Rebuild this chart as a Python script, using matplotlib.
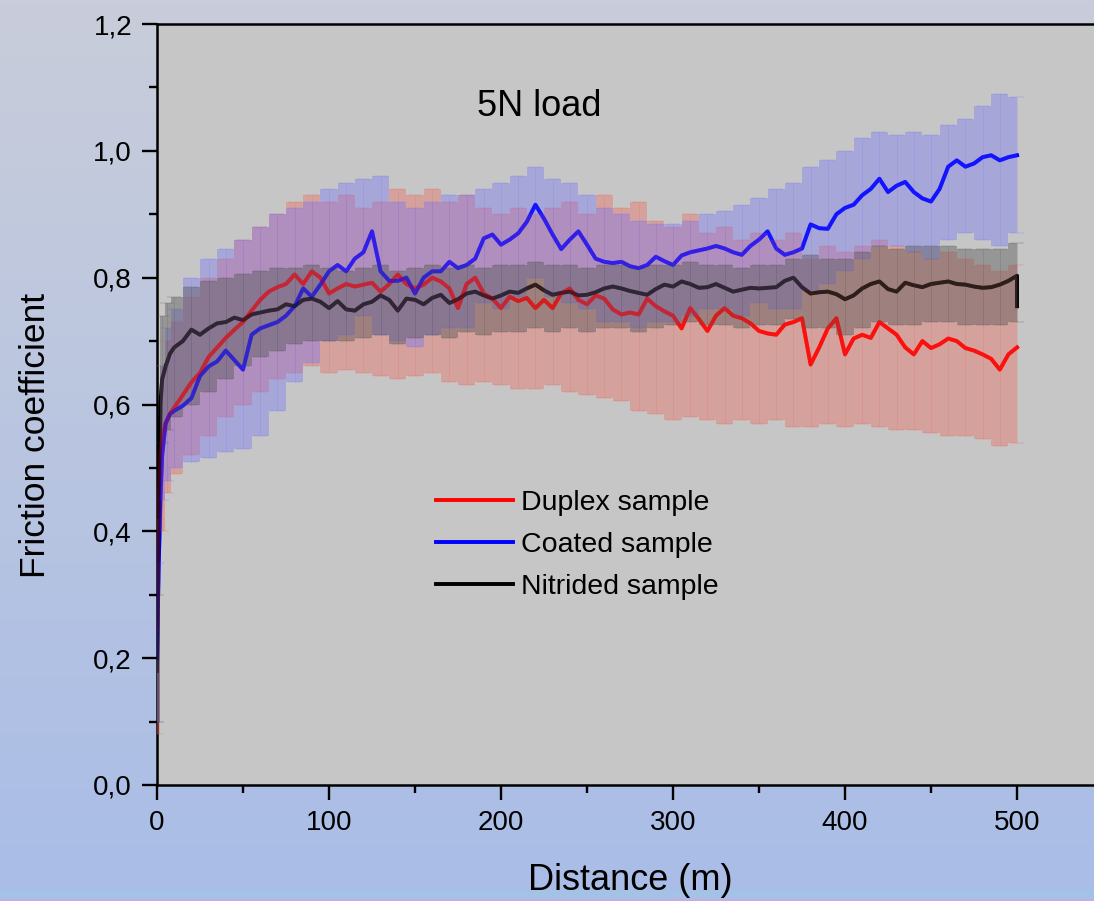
import numpy as np
import matplotlib
matplotlib.use("Agg")
import matplotlib.pyplot as plt
from matplotlib.colors import to_rgb

plt.rcParams['font.family'] = ['Liberation Sans', 'DejaVu Sans']

# sliding distance (m) for the mean curves
dist = [0, 1, 2, 3, 5, 7.5] + list(range(10, 505, 5))

duplex = [0.25, 0.45, 0.52, 0.55, 0.57, 0.585,
          0.595, 0.615, 0.635, 0.650, 0.675, 0.690, 0.705, 0.718, 0.730, 0.748,
          0.765, 0.778, 0.785, 0.790, 0.805, 0.790, 0.810, 0.800, 0.775, 0.783,
          0.790, 0.786, 0.789, 0.792, 0.778, 0.790, 0.805, 0.790, 0.783, 0.789,
          0.800, 0.794, 0.783, 0.752, 0.790, 0.800, 0.775, 0.767, 0.752, 0.770,
          0.763, 0.768, 0.752, 0.765, 0.752, 0.775, 0.783, 0.765, 0.758, 0.772,
          0.767, 0.750, 0.742, 0.745, 0.742, 0.767, 0.755, 0.747, 0.740, 0.720,
          0.752, 0.735, 0.716, 0.740, 0.752, 0.740, 0.736, 0.728, 0.716, 0.712,
          0.710, 0.726, 0.730, 0.736, 0.663, 0.690, 0.720, 0.736, 0.679, 0.704,
          0.710, 0.705, 0.730, 0.720, 0.710, 0.690, 0.679, 0.700, 0.689, 0.695,
          0.704, 0.700, 0.689, 0.685, 0.679, 0.672, 0.655, 0.679, 0.690]

coated = [0.20, 0.35, 0.45, 0.52, 0.57, 0.585,
          0.590, 0.598, 0.610, 0.645, 0.660, 0.668, 0.685, 0.670, 0.655, 0.710,
          0.720, 0.725, 0.730, 0.740, 0.755, 0.783, 0.770, 0.789, 0.810, 0.820,
          0.810, 0.830, 0.840, 0.873, 0.810, 0.795, 0.795, 0.800, 0.775, 0.800,
          0.810, 0.810, 0.825, 0.815, 0.820, 0.830, 0.862, 0.868, 0.852, 0.860,
          0.870, 0.888, 0.915, 0.893, 0.868, 0.845, 0.860, 0.873, 0.852, 0.830,
          0.825, 0.823, 0.825, 0.818, 0.815, 0.820, 0.833, 0.826, 0.820, 0.835,
          0.840, 0.843, 0.846, 0.850, 0.846, 0.840, 0.836, 0.850, 0.860, 0.873,
          0.846, 0.836, 0.840, 0.846, 0.884, 0.878, 0.877, 0.900, 0.910, 0.915,
          0.930, 0.940, 0.956, 0.935, 0.945, 0.951, 0.935, 0.925, 0.920, 0.940,
          0.975, 0.985, 0.975, 0.980, 0.990, 0.993, 0.985, 0.990, 0.993]

nitrided = [0.18, 0.45, 0.60, 0.64, 0.66, 0.68,
            0.690, 0.700, 0.718, 0.710, 0.720, 0.728, 0.730, 0.737, 0.733, 0.742,
            0.745, 0.748, 0.750, 0.758, 0.755, 0.765, 0.767, 0.762, 0.752, 0.763,
            0.750, 0.748, 0.758, 0.762, 0.772, 0.765, 0.748, 0.767, 0.765, 0.758,
            0.768, 0.773, 0.760, 0.766, 0.775, 0.778, 0.772, 0.767, 0.772, 0.778,
            0.776, 0.783, 0.789, 0.780, 0.773, 0.776, 0.778, 0.772, 0.773, 0.777,
            0.783, 0.786, 0.783, 0.779, 0.776, 0.773, 0.782, 0.789, 0.786, 0.794,
            0.790, 0.784, 0.785, 0.790, 0.784, 0.778, 0.781, 0.784, 0.783, 0.784,
            0.785, 0.795, 0.800, 0.785, 0.775, 0.777, 0.778, 0.774, 0.766, 0.772,
            0.783, 0.790, 0.794, 0.782, 0.778, 0.792, 0.788, 0.785, 0.790, 0.792,
            0.794, 0.790, 0.789, 0.786, 0.784, 0.785, 0.789, 0.795, 0.803,
            0.755]
dist_nit = dist + [500]

# error bar envelopes (lower / upper), sampled coarser
band_x = [0, 3, 6] + list(range(10, 510, 10))

duplex_hi = [0.42, 0.66, 0.70,
             0.73, 0.77, 0.80, 0.83, 0.86, 0.88, 0.90, 0.92, 0.93, 0.92,
             0.93, 0.91, 0.92, 0.94, 0.93, 0.94, 0.92, 0.93, 0.91, 0.90,
             0.91, 0.90, 0.91, 0.92, 0.90, 0.93, 0.91, 0.92, 0.89, 0.88,
             0.90, 0.87, 0.88, 0.86, 0.87, 0.86, 0.87, 0.83, 0.85, 0.84,
             0.85, 0.86, 0.85, 0.84, 0.83, 0.84, 0.83, 0.82, 0.81, 0.82]
duplex_lo = [0.08, 0.40, 0.46,
             0.49, 0.52, 0.55, 0.58, 0.60, 0.62, 0.64, 0.65, 0.66, 0.65,
             0.655, 0.65, 0.645, 0.64, 0.645, 0.65, 0.635, 0.63, 0.635, 0.63,
             0.625, 0.625, 0.63, 0.62, 0.615, 0.61, 0.605, 0.59, 0.585, 0.575,
             0.58, 0.575, 0.57, 0.575, 0.57, 0.575, 0.565, 0.565, 0.57, 0.565,
             0.57, 0.565, 0.56, 0.56, 0.555, 0.55, 0.55, 0.545, 0.535, 0.54]

coated_hi = [0.35, 0.66, 0.72,
             0.75, 0.80, 0.83, 0.845, 0.86, 0.88, 0.90, 0.91, 0.92, 0.94,
             0.95, 0.955, 0.96, 0.92, 0.91, 0.92, 0.93, 0.93, 0.94, 0.95,
             0.96, 0.975, 0.955, 0.95, 0.93, 0.91, 0.90, 0.89, 0.885, 0.885,
             0.89, 0.90, 0.905, 0.915, 0.925, 0.94, 0.95, 0.975, 0.985, 1.0,
             1.02, 1.03, 1.025, 1.03, 1.025, 1.04, 1.05, 1.07, 1.09, 1.085]
coated_lo = [0.10, 0.45, 0.48,
             0.50, 0.51, 0.515, 0.525, 0.53, 0.55, 0.59, 0.635, 0.665, 0.70,
             0.71, 0.74, 0.71, 0.70, 0.69, 0.71, 0.72, 0.72, 0.76, 0.75,
             0.77, 0.80, 0.77, 0.76, 0.75, 0.73, 0.73, 0.72, 0.73, 0.73,
             0.74, 0.75, 0.75, 0.74, 0.76, 0.75, 0.75, 0.78, 0.79, 0.81,
             0.83, 0.85, 0.85, 0.84, 0.83, 0.86, 0.87, 0.86, 0.85, 0.87]

nitrided_hi = [0.30, 0.74, 0.76,
               0.77, 0.785, 0.795, 0.80, 0.805, 0.81, 0.815, 0.815, 0.82, 0.815,
               0.81, 0.815, 0.82, 0.81, 0.815, 0.82, 0.815, 0.82, 0.815, 0.82,
               0.82, 0.825, 0.82, 0.82, 0.815, 0.82, 0.82, 0.815, 0.82, 0.82,
               0.825, 0.82, 0.82, 0.815, 0.82, 0.82, 0.83, 0.835, 0.83, 0.83,
               0.84, 0.85, 0.845, 0.85, 0.85, 0.85, 0.845, 0.845, 0.845, 0.855]
nitrided_lo = [0.10, 0.54, 0.56,
               0.58, 0.60, 0.62, 0.64, 0.66, 0.675, 0.685, 0.695, 0.70, 0.70,
               0.70, 0.705, 0.71, 0.695, 0.705, 0.71, 0.705, 0.715, 0.71, 0.715,
               0.715, 0.72, 0.715, 0.72, 0.715, 0.72, 0.72, 0.715, 0.72, 0.725,
               0.73, 0.725, 0.725, 0.72, 0.725, 0.725, 0.735, 0.72, 0.72, 0.71,
               0.72, 0.73, 0.725, 0.725, 0.73, 0.73, 0.725, 0.725, 0.725, 0.73]

yticks = [0.0, 0.2, 0.4, 0.6, 0.8, 1.0, 1.2]
ytick_labels = ["0,0", "0,2", "0,4", "0,6", "0,8", "1,0", "1,2"]
xticks = [0, 100, 200, 300, 400, 500]

fig = plt.figure(figsize=(10.94, 9.01), dpi=100)

# background gradient
bg = fig.add_axes([0, 0, 1, 1], zorder=-5)
top = np.array(to_rgb("#c9cdda"))
bot = np.array(to_rgb("#a9bde7"))
t = np.linspace(0, 1, 256)[:, None]
grad = (top * (1 - t) + bot * t)[:, None, :]
bg.imshow(grad, aspect="auto", extent=[0, 1, 0, 1])
bg.axhspan(0, 0.003, color="#d2a6e6")
bg.axhspan(0.003, 0.012, color="#a4c2e6")
bg.set_xlim(0, 1)
bg.set_ylim(0, 1)
bg.axis("off")

ax = fig.add_axes([157 / 1094, 116 / 901, 946 / 1094, 761 / 901])
ax.set_facecolor("#c6c6c6")

series = [(dist, duplex, "#ff0000", "Duplex sample"),
          (dist, coated, "#0000ff", "Coated sample"),
          (dist_nit, nitrided, "#000000", "Nitrided sample")]

# mean curves under the translucent error bars, plus a faint copy on top
for xs, ys, col, lab in series:
    ax.plot(xs, ys, color=col, lw=2.8, zorder=2, label=lab)
    ax.plot(xs, ys, color=col, lw=2.8, zorder=4, alpha=0.45)

bands = [(duplex_lo, duplex_hi, "#f25a4c", 0.34),
         (coated_lo, coated_hi, "#6b6bff", 0.34),
         (nitrided_lo, nitrided_hi, "#555555", 0.42)]
for lo, hi, col, a in bands:
    lo = np.array(lo)
    hi = np.array(hi)
    ax.fill_between(band_x, lo, hi, step="mid", color=col, alpha=a, lw=0, zorder=3)
    mid = (lo + hi) / 2
    ax.errorbar(band_x, mid, yerr=(hi - lo) / 2, fmt="none", ecolor=col,
                alpha=a * 0.45, elinewidth=0.7, capsize=5, capthick=1.2, zorder=3)

ax.set_xlim(0, 550)
ax.set_ylim(0, 1.2)
ax.set_xticks(xticks)
ax.set_xticks(range(50, 550, 100), minor=True)
ax.set_yticks(yticks)
ax.set_yticklabels(ytick_labels)
ax.set_yticks([0.1, 0.3, 0.5, 0.7, 0.9, 1.1], minor=True)
ax.tick_params(which="major", direction="out", length=11, width=1.7,
               labelsize=20, pad=7)
ax.tick_params(which="minor", direction="out", length=6, width=1.7)
for s in ["left", "bottom", "top"]:
    ax.spines[s].set_linewidth(1.8)
ax.spines["right"].set_visible(False)

ax.set_xlabel("Distance (m)", fontsize=26, va="center")
ax.xaxis.set_label_coords(0.5, (785 - 880) / 761)
ax.set_ylabel("Friction coefficient", fontsize=25.5, va="center")
ax.yaxis.set_label_coords((35 - 157) / 946, (785 - 435) / 761)

ax.text(222, 1.07, "5N load", fontsize=26, ha="center", va="center")

ax.legend(loc="center left", bbox_to_anchor=((436 - 157) / 946, (785 - 545) / 761),
          frameon=False, fontsize=20.5, handlelength=2.7, handletextpad=0.3,
          labelspacing=0.55, borderpad=0, borderaxespad=0)

fig.savefig("out.png", dpi=100)
